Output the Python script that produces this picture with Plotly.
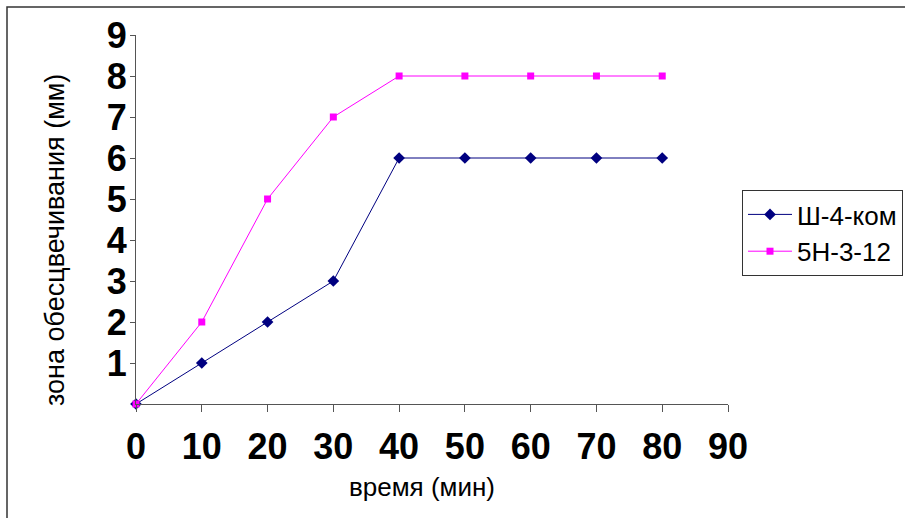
import plotly.graph_objects as go

time_min = [0, 10, 20, 30, 40, 50, 60, 70, 80]
series1_name = "Ш-4-ком"
series1 = [0, 1, 2, 3, 6, 6, 6, 6, 6]
series2_name = "5H-3-12"
series2 = [0, 2, 5, 7, 8, 8, 8, 8, 8]
x_ticks = [0, 10, 20, 30, 40, 50, 60, 70, 80, 90]
y_ticks = [1, 2, 3, 4, 5, 6, 7, 8, 9]
x_title = "время (мин)"
y_title = "зона обесцвечивания (мм)"

FONT = "Arial, Liberation Sans, sans-serif"

fig = go.Figure()
fig.add_trace(go.Scatter(x=time_min, y=series1, name=series1_name, mode="lines+markers",
                         line=dict(color="#000080", width=1),
                         marker=dict(symbol="diamond", size=9, color="#000080"),
                         cliponaxis=False))
fig.add_trace(go.Scatter(x=time_min, y=series2, name=series2_name, mode="lines+markers",
                         line=dict(color="#FF00FF", width=1),
                         marker=dict(symbol="square", size=7, color="#FF00FF"),
                         cliponaxis=False))

L, R, T, B = 136, 177, 35, 114
W, H = 905, 518
pw, ph = W - L - R, H - T - B

def px(xp):
    return (xp - L) / pw

def py(yp):
    return (H - B - yp) / ph

fig.update_layout(
    width=W, height=H,
    margin=dict(l=L, r=R, t=T, b=B, pad=0, autoexpand=False),
    paper_bgcolor="white", plot_bgcolor="white",
    font=dict(family=FONT, color="black"),
    showlegend=True,
    legend=dict(x=px(742), y=py(190), xanchor="left", yanchor="top",
                bordercolor="#333333", borderwidth=1, bgcolor="white",
                font=dict(size=26, family=FONT),
                itemwidth=44, tracegroupgap=0),
    xaxis=dict(range=[0, 90], tickvals=x_ticks, ticktext=[str(v) for v in x_ticks],
               showgrid=False, zeroline=False, showline=True, linecolor="#555555", linewidth=1,
               ticks="outside", ticklen=7, tickcolor="#555555",
               tickfont=dict(size=36, family=FONT, weight="bold"),
               ticklabelstandoff=4),
    yaxis=dict(range=[0, 9], tickvals=y_ticks, ticktext=[str(v) for v in y_ticks],
               showgrid=False, zeroline=False, showline=True, linecolor="#555555", linewidth=1,
               ticks="outside", ticklen=5, tickcolor="#555555",
               tickfont=dict(size=36, family=FONT, weight="bold"),
               ticklabelstandoff=-4),
)

fig.add_annotation(text=x_title, xref="paper", yref="paper", x=px(422), y=py(487),
                   xanchor="center", yanchor="middle", showarrow=False,
                   font=dict(size=26, family=FONT, color="black"))
fig.add_annotation(text=y_title, xref="paper", yref="paper", x=px(55), y=py(240),
                   xanchor="center", yanchor="middle", showarrow=False, textangle=-90,
                   font=dict(size=27, family=FONT, color="black"))

fig.add_shape(type="rect", xref="paper", yref="paper",
              x0=px(7), x1=px(912), y0=py(525), y1=py(7),
              line=dict(color="#333333", width=1.5), layer="below")

fig.write_html("out.html")
